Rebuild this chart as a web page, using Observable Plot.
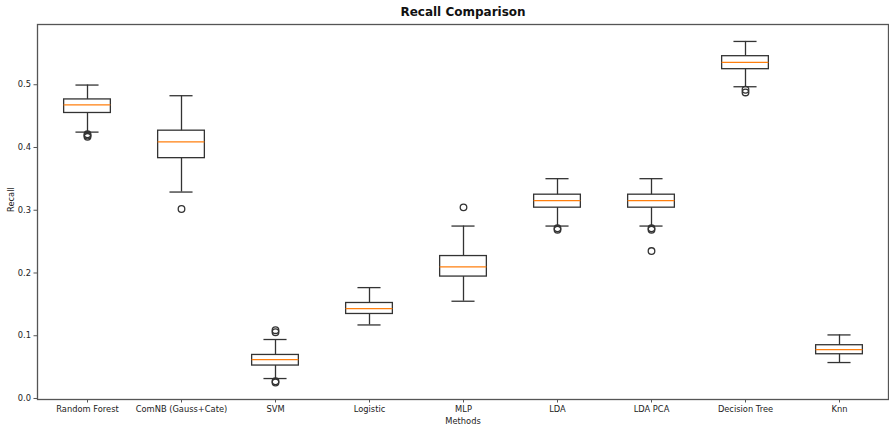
<!DOCTYPE html>
<html>
<head>
<meta charset="utf-8">
<script src="https://cdn.jsdelivr.net/npm/d3@7"></script>
<script src="https://cdn.jsdelivr.net/npm/@observablehq/plot@0.6"></script>
<style>
  html, body { margin: 0; padding: 0; background: #fff; }
</style>
</head>
<body>
<div id="chart"></div>
<script>
const categories = ["Random Forest", "ComNB (Gauss+Cate)", "SVM", "Logistic", "MLP", "LDA", "LDA PCA", "Decision Tree", "Knn"];
const whiskerLow  = [0.4245, 0.329, 0.0318, 0.1172, 0.155, 0.2748, 0.2748, 0.4968, 0.0573];
const q1          = [0.455, 0.383, 0.0525, 0.1347, 0.1943, 0.3041, 0.3041, 0.5248, 0.0705];
const median      = [0.468, 0.409, 0.062, 0.1433, 0.2096, 0.3153, 0.3153, 0.5355, 0.078];
const q3          = [0.4766, 0.4268, 0.0694, 0.1522, 0.227, 0.3248, 0.3248, 0.5455, 0.0849];
const whiskerHigh = [0.4995, 0.4825, 0.094, 0.1767, 0.2748, 0.3503, 0.3503, 0.569, 0.1013];
const outliers = [
  [0.421, 0.419, 0.417],
  [0.302],
  [0.1088, 0.1056, 0.0275, 0.0255],
  [],
  [0.3046],
  [0.2712, 0.269],
  [0.2712, 0.269, 0.235],
  [0.492, 0.4877],
  []
];
const yTicks = [0.0, 0.1, 0.2, 0.3, 0.4, 0.5];
const title = "Recall Comparison";
const xLabel = "Methods";
const yLabel = "Recall";

const rows = categories.map((c, i) => ({method: c, lo: whiskerLow[i], q1: q1[i], med: median[i], q3: q3[i], hi: whiskerHigh[i]}));
const fliers = categories.flatMap((c, i) => outliers[i].map(v => ({method: c, value: v})));

const W = 889, H = 428, mL = 37, mR = 1, mT = 24, mB = 29;
const bw = (W - mL - mR) / categories.length;
const font = "DejaVu Sans, sans-serif";
const ink = "#333";
const sw = 1.3;

const chart = Plot.plot({
  width: W, height: H,
  marginLeft: mL, marginRight: mR, marginTop: mT, marginBottom: mB,
  style: {fontFamily: font, fontSize: "8.3px", color: "#222", background: "#fff", overflow: "visible"},
  x: {type: "band", domain: categories, padding: 0, label: null},
  y: {domain: [-0.0016, 0.596], label: null},
  marks: [
    Plot.ruleX(rows, {x: "method", y1: "lo", y2: "q1", stroke: ink, strokeWidth: sw}),
    Plot.ruleX(rows, {x: "method", y1: "q3", y2: "hi", stroke: ink, strokeWidth: sw}),
    Plot.barY(rows, {x: "method", y1: "q1", y2: "q3", fill: "none", stroke: ink, strokeWidth: sw, insetLeft: bw * 0.25, insetRight: bw * 0.25}),
    Plot.tickY(rows, {x: "method", y: "med", stroke: "#ff7f0e", strokeWidth: sw, inset: bw * 0.25}),
    Plot.tickY(rows, {x: "method", y: "lo", stroke: ink, strokeWidth: sw, inset: bw * 0.375}),
    Plot.tickY(rows, {x: "method", y: "hi", stroke: ink, strokeWidth: sw, inset: bw * 0.375}),
    Plot.dot(fliers, {x: "method", y: "value", r: 3.3, stroke: ink, strokeWidth: sw, fill: "none"}),
    Plot.frame({stroke: "#555", strokeWidth: sw}),
    Plot.axisX({tickSize: 3.5, tickPadding: 3, label: null, stroke: "#555"}),
    Plot.axisY({ticks: yTicks, tickFormat: d3.format(".1f"), tickSize: 3.5, tickPadding: 3, label: null, stroke: "#555"}),
    Plot.text([title], {text: d => d, frameAnchor: "top", lineAnchor: "middle", dy: -12, fontWeight: "bold", fontSize: 12, fill: "#111"}),
    Plot.text([xLabel], {text: d => d, frameAnchor: "bottom", lineAnchor: "middle", dy: 22, fontSize: 8.3}),
    Plot.text([yLabel], {text: d => d, frameAnchor: "left", lineAnchor: "middle", dx: -26, rotate: -90, fontSize: 8.3})
  ]
});
document.getElementById("chart").appendChild(chart);
</script>
</body>
</html>
